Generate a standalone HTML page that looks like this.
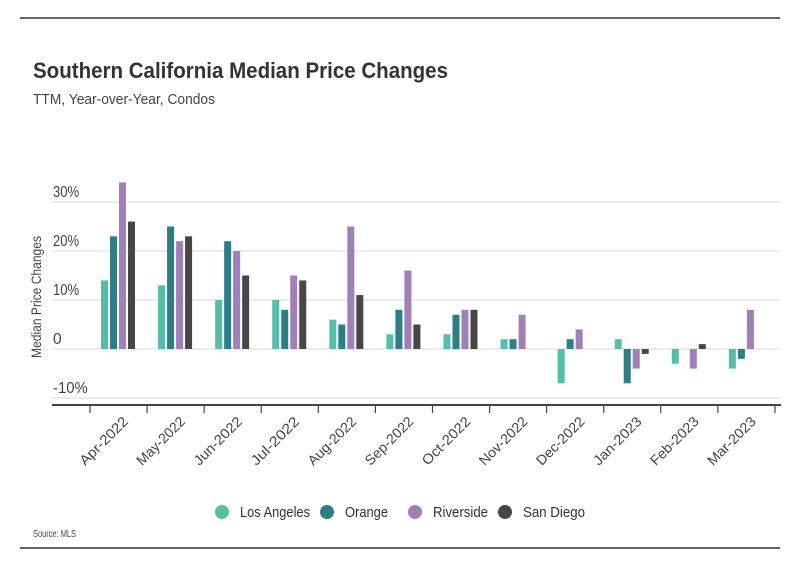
<!DOCTYPE html>
<html><head><meta charset="utf-8"><style>
body{margin:0;background:#fff;width:800px;height:575px;overflow:hidden;font-family:"Liberation Sans",sans-serif}
</style></head><body>
<svg width="800" height="575" xmlns="http://www.w3.org/2000/svg" font-family="'Liberation Sans',sans-serif">
<line x1="20" y1="18" x2="780" y2="18" stroke="#333" stroke-width="1.5"/>
<line x1="20" y1="548" x2="780" y2="548" stroke="#333" stroke-width="1.5"/>
<text x="33" y="78" font-size="22" font-weight="bold" fill="#333" textLength="415" lengthAdjust="spacingAndGlyphs">Southern California Median Price Changes</text>
<text x="33" y="104" font-size="15" fill="#444" textLength="182" lengthAdjust="spacingAndGlyphs">TTM, Year-over-Year, Condos</text>
<text transform="translate(41,297) rotate(-90)" text-anchor="middle" font-size="14" fill="#444" textLength="122" lengthAdjust="spacingAndGlyphs">Median Price Changes</text>
<g id="grid"></g><g id="bars"></g><g id="xaxis"></g>
<g id="legend"></g>
<text x="33" y="537" font-size="10" fill="#444" textLength="43" lengthAdjust="spacingAndGlyphs">Source:  MLS</text>
</svg>
<script>
const categories=["Apr-2022","May-2022","Jun-2022","Jul-2022","Aug-2022","Sep-2022","Oct-2022","Nov-2022","Dec-2022","Jan-2023","Feb-2023","Mar-2023"];
const seriesNames=["Los Angeles","Orange","Riverside","San Diego"];
const losAngeles=[14,13,10,10,6,3,3,2,-7,2,-3,-4];
const orange=[23,25,22,8,5,8,7,2,2,-7,0,-2];
const riverside=[34,22,20,15,25,16,8,7,4,-4,-4,8];
const sanDiego=[26,23,15,14,11,5,8,0,0,-1,1,0];
const yTicks=[-10,0,10,20,30];
const yTickLabels=["-10%","0","10%","20%","30%"];
const colors=["#52bfa9","#2a7f89","#a07fbb","#474747"];
const NS="http://www.w3.org/2000/svg";
const y=v=>349-v*4.9;
const step=57.08,x0=90;
const x=i=>x0+i*step;
function mk(t,a,p){const e=document.createElementNS(NS,t);for(const k in a)e.setAttribute(k,a[k]);p.appendChild(e);return e;}
const grid=document.getElementById('grid');
yTicks.forEach((t,i)=>{
 const l=mk('line',{x1:52,x2:780,y1:y(t),y2:y(t),stroke:'#d9d9d9','stroke-width':1},grid);
 
 
 const lbl=yTickLabels[i];
 const tx=mk('text',{x:53,y:y(t)-5,'font-size':16,fill:'#444',textLength:lbl.length*8.7,lengthAdjust:'spacingAndGlyphs'},grid);tx.textContent=lbl;
 
 
});
const bars=document.getElementById('bars');
[losAngeles,orange,riverside,sanDiego].forEach((s,si)=>{
 s.forEach((v,i)=>{
  const bx=x(i)+11+si*9;
  const r=mk('rect',{x:bx,y:Math.min(y(v),y(0)),width:7,height:Math.abs(y(v)-y(0)),fill:colors[si]},bars);
  
  
 });
});
const xa=document.getElementById('xaxis');
const ax=mk('line',{x1:52,x2:781,y1:405,y2:405,stroke:'#444','stroke-width':2},xa);


for(let i=0;i<=categories.length;i++){
 const tk=mk('line',{x1:x(i),x2:x(i),y1:405,y2:413,stroke:'#444','stroke-width':1.2},xa);
 
 
}
categories.forEach((c,i)=>{
 const cx=x(i)+step/2+3;
 const t=mk('text',{transform:`translate(${cx},415) rotate(-45)`,'text-anchor':'end','font-size':14,fill:'#444','dominant-baseline':'hanging',textLength:62,lengthAdjust:'spacingAndGlyphs'},xa);
 t.textContent=c;
 
 
});
const lg=document.getElementById('legend');
const lx=[222,327,415,505];
const lw=[70,43,55,62];
seriesNames.forEach((n,i)=>{
 const g=mk('g',{},lg);
 
 
 mk('circle',{cx:lx[i],cy:512,r:7,fill:colors[i]},g);
 const t=mk('text',{x:lx[i]+18,y:517,'font-size':15,fill:'#333',textLength:lw[i],lengthAdjust:'spacingAndGlyphs'},g);t.textContent=n;
});
</script>
</body></html>
